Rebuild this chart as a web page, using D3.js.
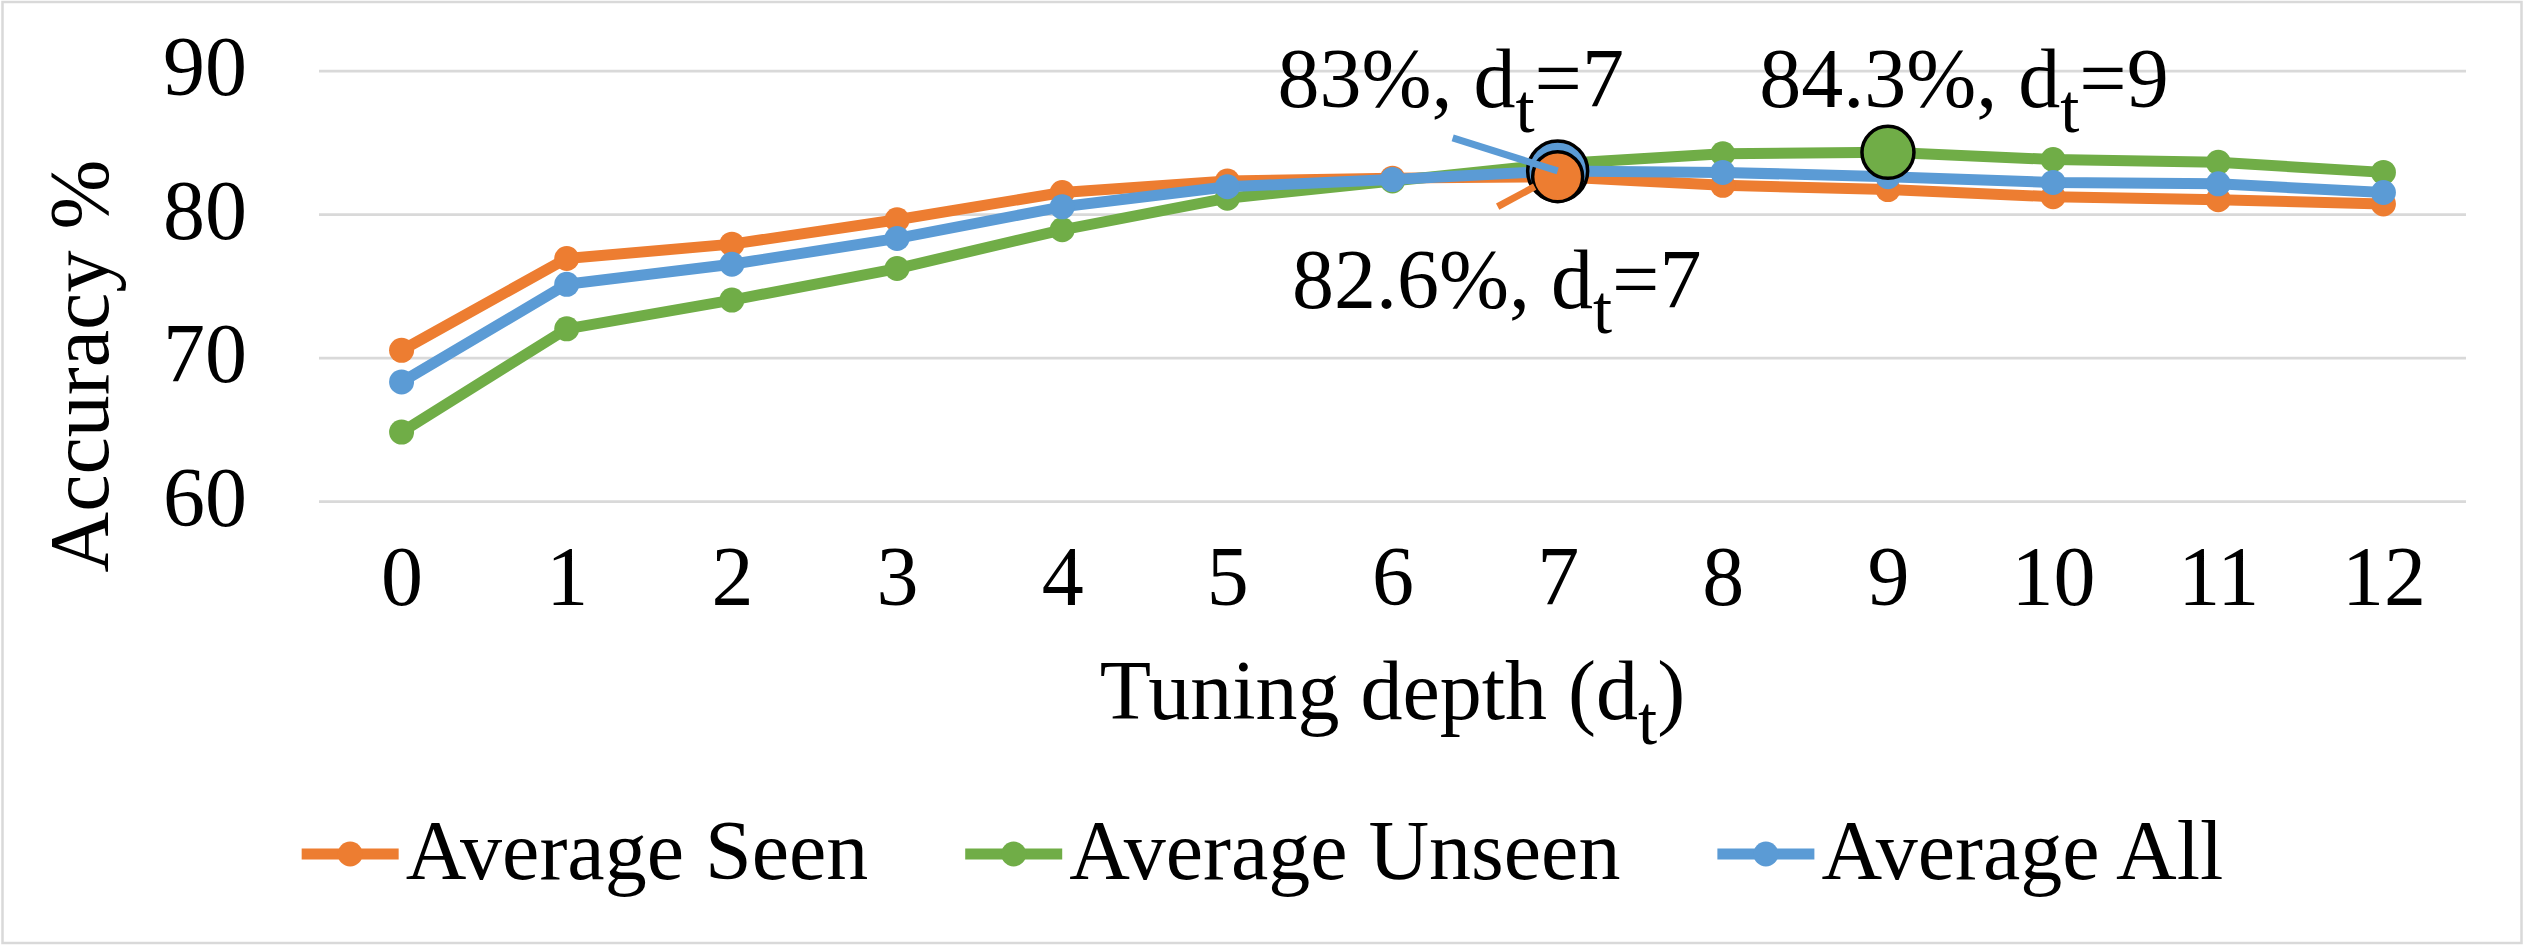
<!DOCTYPE html>
<html lang="en">
<head>
  <meta charset="UTF-8">
  <title>Accuracy vs tuning depth</title>
  <script src="https://d3js.org/d3.v7.min.js"></script>
  <style>
    body { margin: 0; background: #fff; }
    svg { display: block; }
    text { font-family: "Liberation Serif", "Times New Roman", serif; fill: #000; }
  </style>
</head>
<body>
  <svg id="chart" width="2525" height="948"></svg>

  <script>
    // values
    const depths = [0, 1, 2, 3, 4, 5, 6, 7, 8, 9, 10, 11, 12];
    const seen   = [70.5, 76.9, 77.9, 79.6, 81.5, 82.3, 82.5, 82.6, 82.0, 81.7, 81.2, 81.0, 80.7];
    const unseen = [64.8, 72.0, 74.0, 76.2, 78.9, 81.1, 82.3, 83.5, 84.2, 84.3, 83.8, 83.6, 82.9];
    const all    = [68.3, 75.1, 76.5, 78.3, 80.5, 81.9, 82.4, 83.0, 82.9, 82.6, 82.2, 82.1, 81.5];
    const yTicks = [60, 70, 80, 90];

    const seriesNames  = ["Average Seen", "Average Unseen", "Average All"];
    const seriesColors = ["#ED7D31", "#70AD47", "#5B9BD5"];
    const seriesValues = [seen, unseen, all];

    // highlighted points: series index, depth, label parts (text, subscript, text)
    const highlights = [
      { s: 2, depth: 7, r: 30, label: ["83%, d", "t", "=7"], lx: -107, ly: -64, lead: [[0, 0], [-105, -33]] },
      { s: 0, depth: 7, r: 25, label: ["82.6%, d", "t", "=7"], lx: -61, ly: 131, lead: [[-23, 10], [-60, 30]] },
      { s: 1, depth: 9, r: 26, label: ["84.3%, d", "t", "=9"], lx: 76, ly: -45, lead: null }
    ];

    const svg = d3.select("#chart");
    const W = 2525, H = 948;
    const plotLeft = 319, plotRight = 2466, plotTop = 70.5, plotBottom = 501;
    const fontSize = 84;
    const lineW = 11;

    svg.append("rect")
      .attr("x", 2.5).attr("y", 2).attr("width", W - 6).attr("height", H - 7)
      .attr("fill", "#fff").attr("stroke", "#D9D9D9").attr("stroke-width", 2.5);

    const x = d3.scalePoint().domain(depths).range([plotLeft, plotRight]).padding(0.5);
    const y = d3.scaleLinear().domain([60, 90]).range([plotBottom, plotTop]);

    // y axis with gridlines
    const yAxis = svg.append("g")
      .attr("transform", `translate(${plotLeft},0)`)
      .call(d3.axisLeft(y).tickValues(yTicks).tickSize(-(plotRight - plotLeft)).tickPadding(72));
    yAxis.select(".domain").remove();
    yAxis.selectAll(".tick line").attr("stroke", "#D9D9D9").attr("stroke-width", 2.75);
    yAxis.selectAll(".tick text")
      .attr("font-size", fontSize).attr("dy", "0.29em")
      .style("font-family", '"Liberation Serif", "Times New Roman", serif');

    // x axis labels
    const xAxis = svg.append("g")
      .attr("transform", `translate(0,${plotBottom})`)
      .call(d3.axisBottom(x).tickSize(0));
    xAxis.select(".domain").remove();
    xAxis.selectAll(".tick text")
      .attr("font-size", fontSize).attr("y", 104).attr("dy", 0)
      .style("font-family", '"Liberation Serif", "Times New Roman", serif');

    function subText(g, parts, size) {
      const t = g.append("text").attr("font-size", size);
      t.append("tspan").text(parts[0]);
      t.append("tspan").attr("font-size", size * 0.82).attr("dy", 25).text(parts[1]);
      t.append("tspan").attr("dy", -25).text(parts[2]);
      return t;
    }

    // axis titles
    svg.append("text")
      .attr("transform", "translate(108,366) rotate(-90)")
      .attr("text-anchor", "middle").attr("font-size", fontSize)
      .text("Accuracy %");
    const xt = svg.append("g").attr("transform", `translate(${(plotLeft + plotRight) / 2},719)`);
    subText(xt, ["Tuning depth (d", "t", ")"], fontSize).attr("text-anchor", "middle");

    // series lines
    const line = d3.line().x((d, i) => x(depths[i])).y(d => y(d));
    seriesValues.forEach((vals, s) => {
      const g = svg.append("g");
      g.append("path")
        .attr("d", line(vals))
        .attr("fill", "none")
        .attr("stroke", seriesColors[s])
        .attr("stroke-width", lineW)
        .attr("stroke-linejoin", "round");
      g.selectAll("circle")
        .data(vals)
        .join("circle")
        .attr("cx", (d, i) => x(depths[i]))
        .attr("cy", d => y(d))
        .attr("r", 12.5)
        .attr("fill", seriesColors[s]);
    });

    // highlighted markers
    highlights.forEach(h => {
      const cx = x(h.depth), cy = y(seriesValues[h.s][depths.indexOf(h.depth)]);
      svg.append("circle")
        .attr("cx", cx).attr("cy", cy).attr("r", h.r)
        .attr("fill", seriesColors[h.s])
        .attr("stroke", "#000").attr("stroke-width", 3.5);
    });
    highlights.forEach(h => {
      const cx = x(h.depth), cy = y(seriesValues[h.s][depths.indexOf(h.depth)]);
      if (h.lead) {
        svg.append("line")
          .attr("x1", cx + h.lead[0][0]).attr("y1", cy + h.lead[0][1])
          .attr("x2", cx + h.lead[1][0]).attr("y2", cy + h.lead[1][1])
          .attr("stroke", seriesColors[h.s]).attr("stroke-width", 7);
      }
      const g = svg.append("g").attr("transform", `translate(${cx + h.lx},${cy + h.ly})`);
      subText(g, h.label, fontSize).attr("text-anchor", "middle");
    });

    // legend, centered on the chart
    const legend = svg.append("g");
    const items = seriesNames.map((name, s) => {
      const g = legend.append("g");
      g.append("line").attr("x1", 0).attr("x2", 97).attr("y1", 0).attr("y2", 0)
        .attr("stroke", seriesColors[s]).attr("stroke-width", lineW);
      g.append("circle").attr("cx", 48.5).attr("cy", 0).attr("r", 12.5).attr("fill", seriesColors[s]);
      const t = g.append("text").attr("x", 104).attr("y", 25).attr("font-size", fontSize).text(name);
      return { g, w: 104 + t.node().getComputedTextLength() };
    });
    const gap = 97;
    const total = d3.sum(items, d => d.w) + gap * (items.length - 1);
    let lx = (W - total) / 2;
    items.forEach(it => {
      it.g.attr("transform", `translate(${lx},854)`);
      lx += it.w + gap;
    });
  </script>
</body>
</html>
